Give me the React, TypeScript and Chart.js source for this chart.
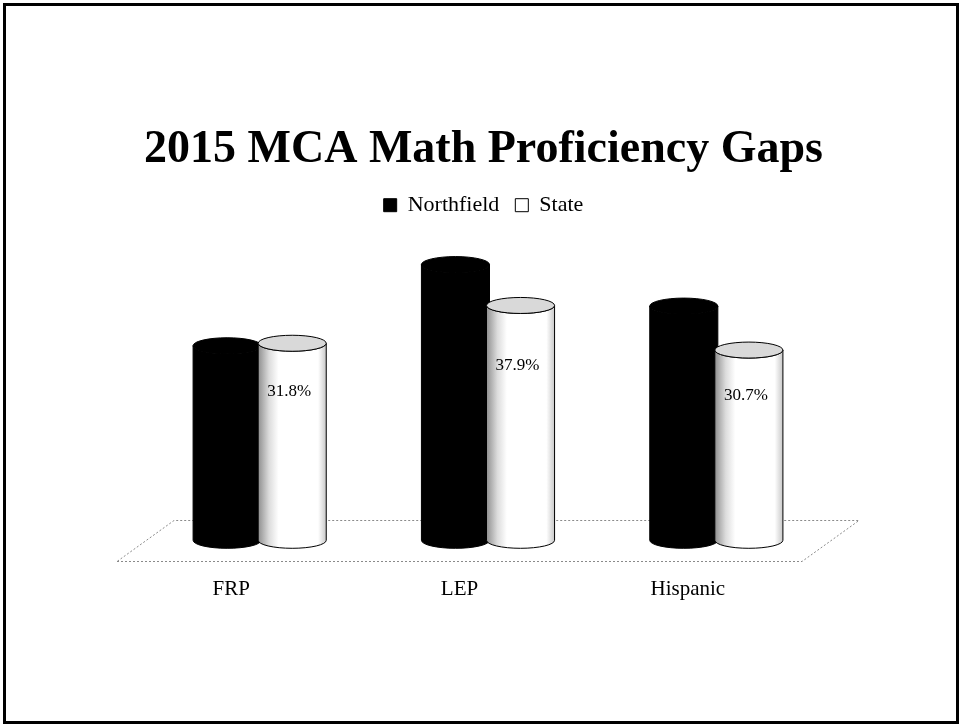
import React, { useEffect, useRef } from "react";
import { Chart, registerables } from "chart.js";

Chart.register(...registerables);

const categories = ["FRP", "LEP", "Hispanic"];
const seriesNames = ["Northfield", "State"];
const northfieldValues = [31.4, 44.5, 37.8];
const stateValues = [31.8, 37.9, 30.7];
const titleText = "2015 MCA Math Proficiency Gaps";

const FONT = "'Liberation Serif', 'DejaVu Serif', serif";
const DEPTH_DX = 57;
const DEPTH_DY = -41;
const ELLIPSE_RY = 8;

function drawCylinder(ctx: CanvasRenderingContext2D, cx: number, rx: number, yTop: number, yBot: number, dark: boolean) {
  const ry = ELLIPSE_RY;
  ctx.save();
  ctx.beginPath();
  ctx.moveTo(cx - rx, yTop);
  ctx.lineTo(cx - rx, yBot);
  ctx.ellipse(cx, yBot, rx, ry, 0, Math.PI, 0, true);
  ctx.lineTo(cx + rx, yTop);
  ctx.ellipse(cx, yTop, rx, ry, 0, 0, Math.PI, false);
  ctx.closePath();
  if (dark) {
    ctx.fillStyle = "#000";
  } else {
    const g = ctx.createLinearGradient(cx - rx, 0, cx + rx, 0);
    g.addColorStop(0, "#8f8f8f");
    g.addColorStop(0.16, "#dcdcdc");
    g.addColorStop(0.3, "#ffffff");
    g.addColorStop(0.88, "#ffffff");
    g.addColorStop(1, "#c8c8c8");
    ctx.fillStyle = g;
  }
  ctx.fill();
  ctx.lineWidth = 1;
  ctx.strokeStyle = "#000";
  ctx.stroke();
  ctx.beginPath();
  ctx.ellipse(cx, yTop, rx, ry, 0, 0, Math.PI * 2);
  ctx.fillStyle = dark ? "#000" : "#d9d9d9";
  ctx.fill();
  ctx.stroke();
  ctx.restore();
}

const cylinderPlugin = {
  id: "cylinders",
  beforeDatasetsDraw(chart: any) {
    const ctx: CanvasRenderingContext2D = chart.ctx;
    const { left, right, bottom } = chart.chartArea;
    ctx.save();
    ctx.strokeStyle = "#8a8a8a";
    ctx.lineWidth = 1;
    ctx.setLineDash([2, 2]);
    ctx.beginPath();
    const fy = Math.round(bottom) + 0.5;
    ctx.moveTo(left, fy);
    ctx.lineTo(right, fy);
    ctx.lineTo(right + DEPTH_DX, fy + DEPTH_DY);
    ctx.lineTo(left + DEPTH_DX, fy + DEPTH_DY);
    ctx.closePath();
    ctx.stroke();
    ctx.restore();

    const hdx = DEPTH_DX / 2;
    const hdy = DEPTH_DY / 2;
    chart.data.datasets.forEach((_ds: any, di: number) => {
      const meta = chart.getDatasetMeta(di);
      meta.data.forEach((bar: any) => {
        const p = bar.getProps(["x", "y", "base", "width"], true);
        const cx = p.x + hdx;
        const rx = p.width / 2 + 1.5;
        drawCylinder(ctx, cx, rx, p.y + hdy, p.base + hdy, di === 0);
      });
    });
    return false;
  },
  afterDraw(chart: any) {
    const ctx: CanvasRenderingContext2D = chart.ctx;
    const yScale = chart.scales.y;
    const hdx = DEPTH_DX / 2;
    const hdy = DEPTH_DY / 2;
    const meta = chart.getDatasetMeta(1);
    ctx.save();
    ctx.font = `17px ${FONT}`;
    ctx.fillStyle = "#000";
    ctx.textAlign = "center";
    ctx.textBaseline = "middle";
    meta.data.forEach((bar: any, i: number) => {
      const v = stateValues[i];
      const p = bar.getProps(["x"], true);
      const ly = yScale.getPixelForValue(v * 0.68) + hdy - 15;
      ctx.fillText(`${v.toFixed(1)}%`, p.x + hdx - 3, ly);
    });
    ctx.restore();
  },
};

export default function App() {
  const canvasRef = useRef<HTMLCanvasElement | null>(null);

  useEffect(() => {
    document.body.style.margin = "0";
    const canvas = canvasRef.current;
    if (!canvas) return;
    const chart = new Chart(canvas, {
      type: "bar",
      data: {
        labels: categories,
        datasets: [
          {
            label: seriesNames[0],
            data: northfieldValues,
            backgroundColor: "#000",
            borderColor: "#000",
            borderWidth: 1,
          },
          {
            label: seriesNames[1],
            data: stateValues,
            backgroundColor: "#fff",
            borderColor: "#000",
            borderWidth: 1,
          },
        ],
      },
      options: {
        responsive: false,
        maintainAspectRatio: false,
        animation: false,
        layout: { padding: { top: 123, left: 20, right: 13, bottom: 109 } },
        datasets: { bar: { categoryPercentage: 0.57, barPercentage: 1.0 } },
        scales: {
          x: {
            grid: { display: false, drawTicks: false },
            border: { display: false },
            ticks: { padding: 16, color: "#000", font: { family: FONT, size: 21 } },
          },
          y: {
            display: true,
            min: 0,
            max: 54,
            grid: { display: false, drawTicks: false },
            border: { display: false },
            ticks: { display: false },
            afterFit: (s: any) => {
              s.width = 97;
            },
          },
          y2: {
            type: "linear",
            position: "right",
            display: true,
            min: 0,
            max: 54,
            grid: { display: false, drawTicks: false },
            border: { display: false },
            ticks: { display: false },
            afterFit: (s: any) => {
              s.width = 145;
            },
          },
        },
        plugins: {
          title: {
            display: true,
            text: titleText,
            color: "#000",
            font: { family: FONT, size: 46, weight: "bold" },
            padding: { top: 0, bottom: 0 },
          },
          legend: {
            display: true,
            position: "top",
            labels: {
              color: "#000",
              font: { family: FONT, size: 22 },
              boxWidth: 13,
              boxHeight: 13,
              padding: 16,
            },
          },
          tooltip: { enabled: false },
        },
      },
      plugins: [cylinderPlugin],
    } as any);
    return () => chart.destroy();
  }, []);

  return (
    <div style={{ position: "relative", width: 960, height: 727, background: "#fff" }}>
      <canvas ref={canvasRef} width={960} height={727} style={{ display: "block", width: 960, height: 727 }} />
      <div
        style={{
          position: "absolute",
          left: 3,
          top: 3,
          width: 956,
          height: 721,
          border: "3px solid #000",
          boxSizing: "border-box",
          pointerEvents: "none",
        }}
      />
    </div>
  );
}
